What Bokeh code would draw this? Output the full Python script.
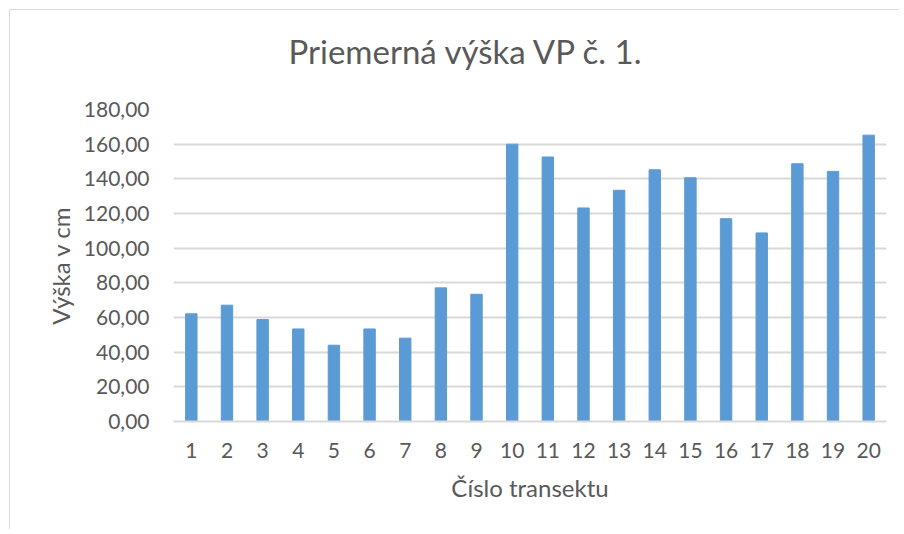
from bokeh.plotting import figure
from bokeh.models import ColumnDataSource, CustomJSTickFormatter, FixedTicker, Title, Range1d
from bokeh.embed import file_html
from bokeh.resources import INLINE

categories = [str(i) for i in range(1, 21)]
values = [62.1, 67.1, 58.8, 53.4, 44.0, 53.4, 48.1, 77.1, 73.4, 160.0,
          152.6, 123.2, 133.4, 145.2, 140.6, 117.0, 108.8, 148.7, 144.3, 165.2]
y_ticks = [0, 20, 40, 60, 80, 100, 120, 140, 160, 180]
title_text = "Priemerná výška VP č. 1."
x_title = "Číslo transektu"
y_title = "Výška v cm"

FONT = "Lato"
TXT = "#595959"

src = ColumnDataSource(dict(cat=categories, val=values))

p = figure(x_range=categories, y_range=Range1d(0, 180), width=890, height=520,
           output_backend="svg", toolbar_location=None,
           min_border_left=163, min_border_right=14, min_border_top=99, min_border_bottom=109)
p.styles = {"border-left": "1px solid #d9d9d9", "border-top": "1px solid #d9d9d9",
            "margin-left": "9px", "margin-top": "9px"}

p.vbar(x="cat", top="val", width=0.32, source=src, color="#5B9BD5", line_color="#5B9BD5")

p.outline_line_color = None
p.xgrid.grid_line_color = None
p.ygrid.grid_line_color = "#D9D9D9"
p.ygrid.grid_line_width = 2
p.yaxis.ticker = FixedTicker(ticks=y_ticks)
p.yaxis.formatter = CustomJSTickFormatter(code="return tick.toFixed(2).replace('.', ',');")

for ax in (p.xaxis, p.yaxis):
    ax.axis_line_color = None
    ax.major_tick_line_color = None
    ax.minor_tick_line_color = None
    ax.major_label_text_font = FONT
    ax.major_label_text_color = TXT
    ax.major_label_text_font_size = "21px"
    ax.axis_label_text_font = FONT
    ax.axis_label_text_color = TXT
    ax.axis_label_text_font_size = "24px"
    ax.axis_label_text_font_style = "normal"

p.xaxis.axis_line_color = "#D9D9D9"
p.xaxis.axis_line_width = 2
p.xaxis.major_label_standoff = 15
p.xaxis.axis_label = x_title
p.xaxis.axis_label_standoff = 12
p.yaxis.major_label_standoff = 18
p.yaxis.axis_label = y_title
p.yaxis.axis_label_standoff = 6

# spacer between frame and title
p.add_layout(Title(text=" ", text_font_size="1px", standoff=36), "above")
p.add_layout(Title(text=title_text, align="left", offset=115, standoff=0,
                   text_font=FONT, text_font_size="33px", text_color=TXT,
                   text_font_style="normal"), "above")

open("out.html", "w").write(file_html(p, INLINE))
